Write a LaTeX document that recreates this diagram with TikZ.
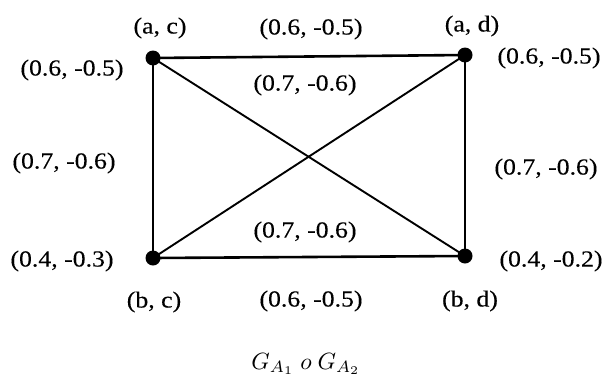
\documentclass[tikz,border=0pt]{standalone}
\usepackage{graphicx}
\usepackage{fontspec}
\setmainfont{Liberation Serif}
\newfontfamily\lblfont[FakeBold=0.2]{Liberation Serif}
\newcommand{\wlbl}[1]{\scalebox{1.12}[1]{#1}}
\begin{document}
\begin{tikzpicture}[x=1pt,y=-1pt,
  lbl/.style={inner sep=0pt, font=\lblfont\fontsize{23}{27}\selectfont},
  vdot/.style={circle, fill=black, inner sep=0pt, minimum size=15pt},
  edgeo/.style={line width=2.6pt},
  edged/.style={line width=1.9pt}]
\useasboundingbox (0,0) rectangle (604,383);
\fill[white] (0,0) rectangle (604,383);
% vertices
\node[vdot] (ac) at (153,58) {};
\node[vdot] (ad) at (465,55) {};
\node[vdot] (bc) at (153,258) {};
\node[vdot] (bd) at (465,256) {};
% edges
\draw[edgeo] (ac.center) -- (ad.center);
\draw[edgeo] (ac.center) -- (bc.center);
\draw[edgeo] (ad.center) -- (bd.center);
\draw[edgeo] (bc.center) -- (bd.center);
\draw[edged] (ac.center) -- (bd.center);
\draw[edged] (ad.center) -- (bc.center);
% vertex names
\node[lbl] (tac) at (160,28) {\wlbl{(a, c)}};
\node[lbl] (tad) at (472,26) {\wlbl{(a, d)}};
\node[lbl] (tbc) at (154,302) {\wlbl{(b, c)}};
\node[lbl] (tbd) at (470,301) {\wlbl{(b, d)}};
% vertex values
\node[lbl] (vac) at (72,70) {\wlbl{(0.6, -0.5)}};
\node[lbl] (vad) at (549,58) {\wlbl{(0.6, -0.5)}};
\node[lbl] (vbc) at (62,261) {\wlbl{(0.4, -0.3)}};
\node[lbl] (vbd) at (551,261) {\wlbl{(0.4, -0.2)}};
% edge values
\node[lbl] (etop) at (311,29) {\wlbl{(0.6, -0.5)}};
\node[lbl] (ebot) at (311,301) {\wlbl{(0.6, -0.5)}};
\node[lbl] (eleft) at (64,163) {\wlbl{(0.7, -0.6)}};
\node[lbl] (eright) at (546,169) {\wlbl{(0.7, -0.6)}};
\node[lbl] (eup) at (305,85) {\wlbl{(0.7, -0.6)}};
\node[lbl] (elow) at (305,232) {\wlbl{(0.7, -0.6)}};
% caption
\node[inner sep=0pt] (cap) at (306,364) {\scalebox{2.35}{$G_{A_1}\ o\ G_{A_2}$}};
\end{tikzpicture}
\end{document}
